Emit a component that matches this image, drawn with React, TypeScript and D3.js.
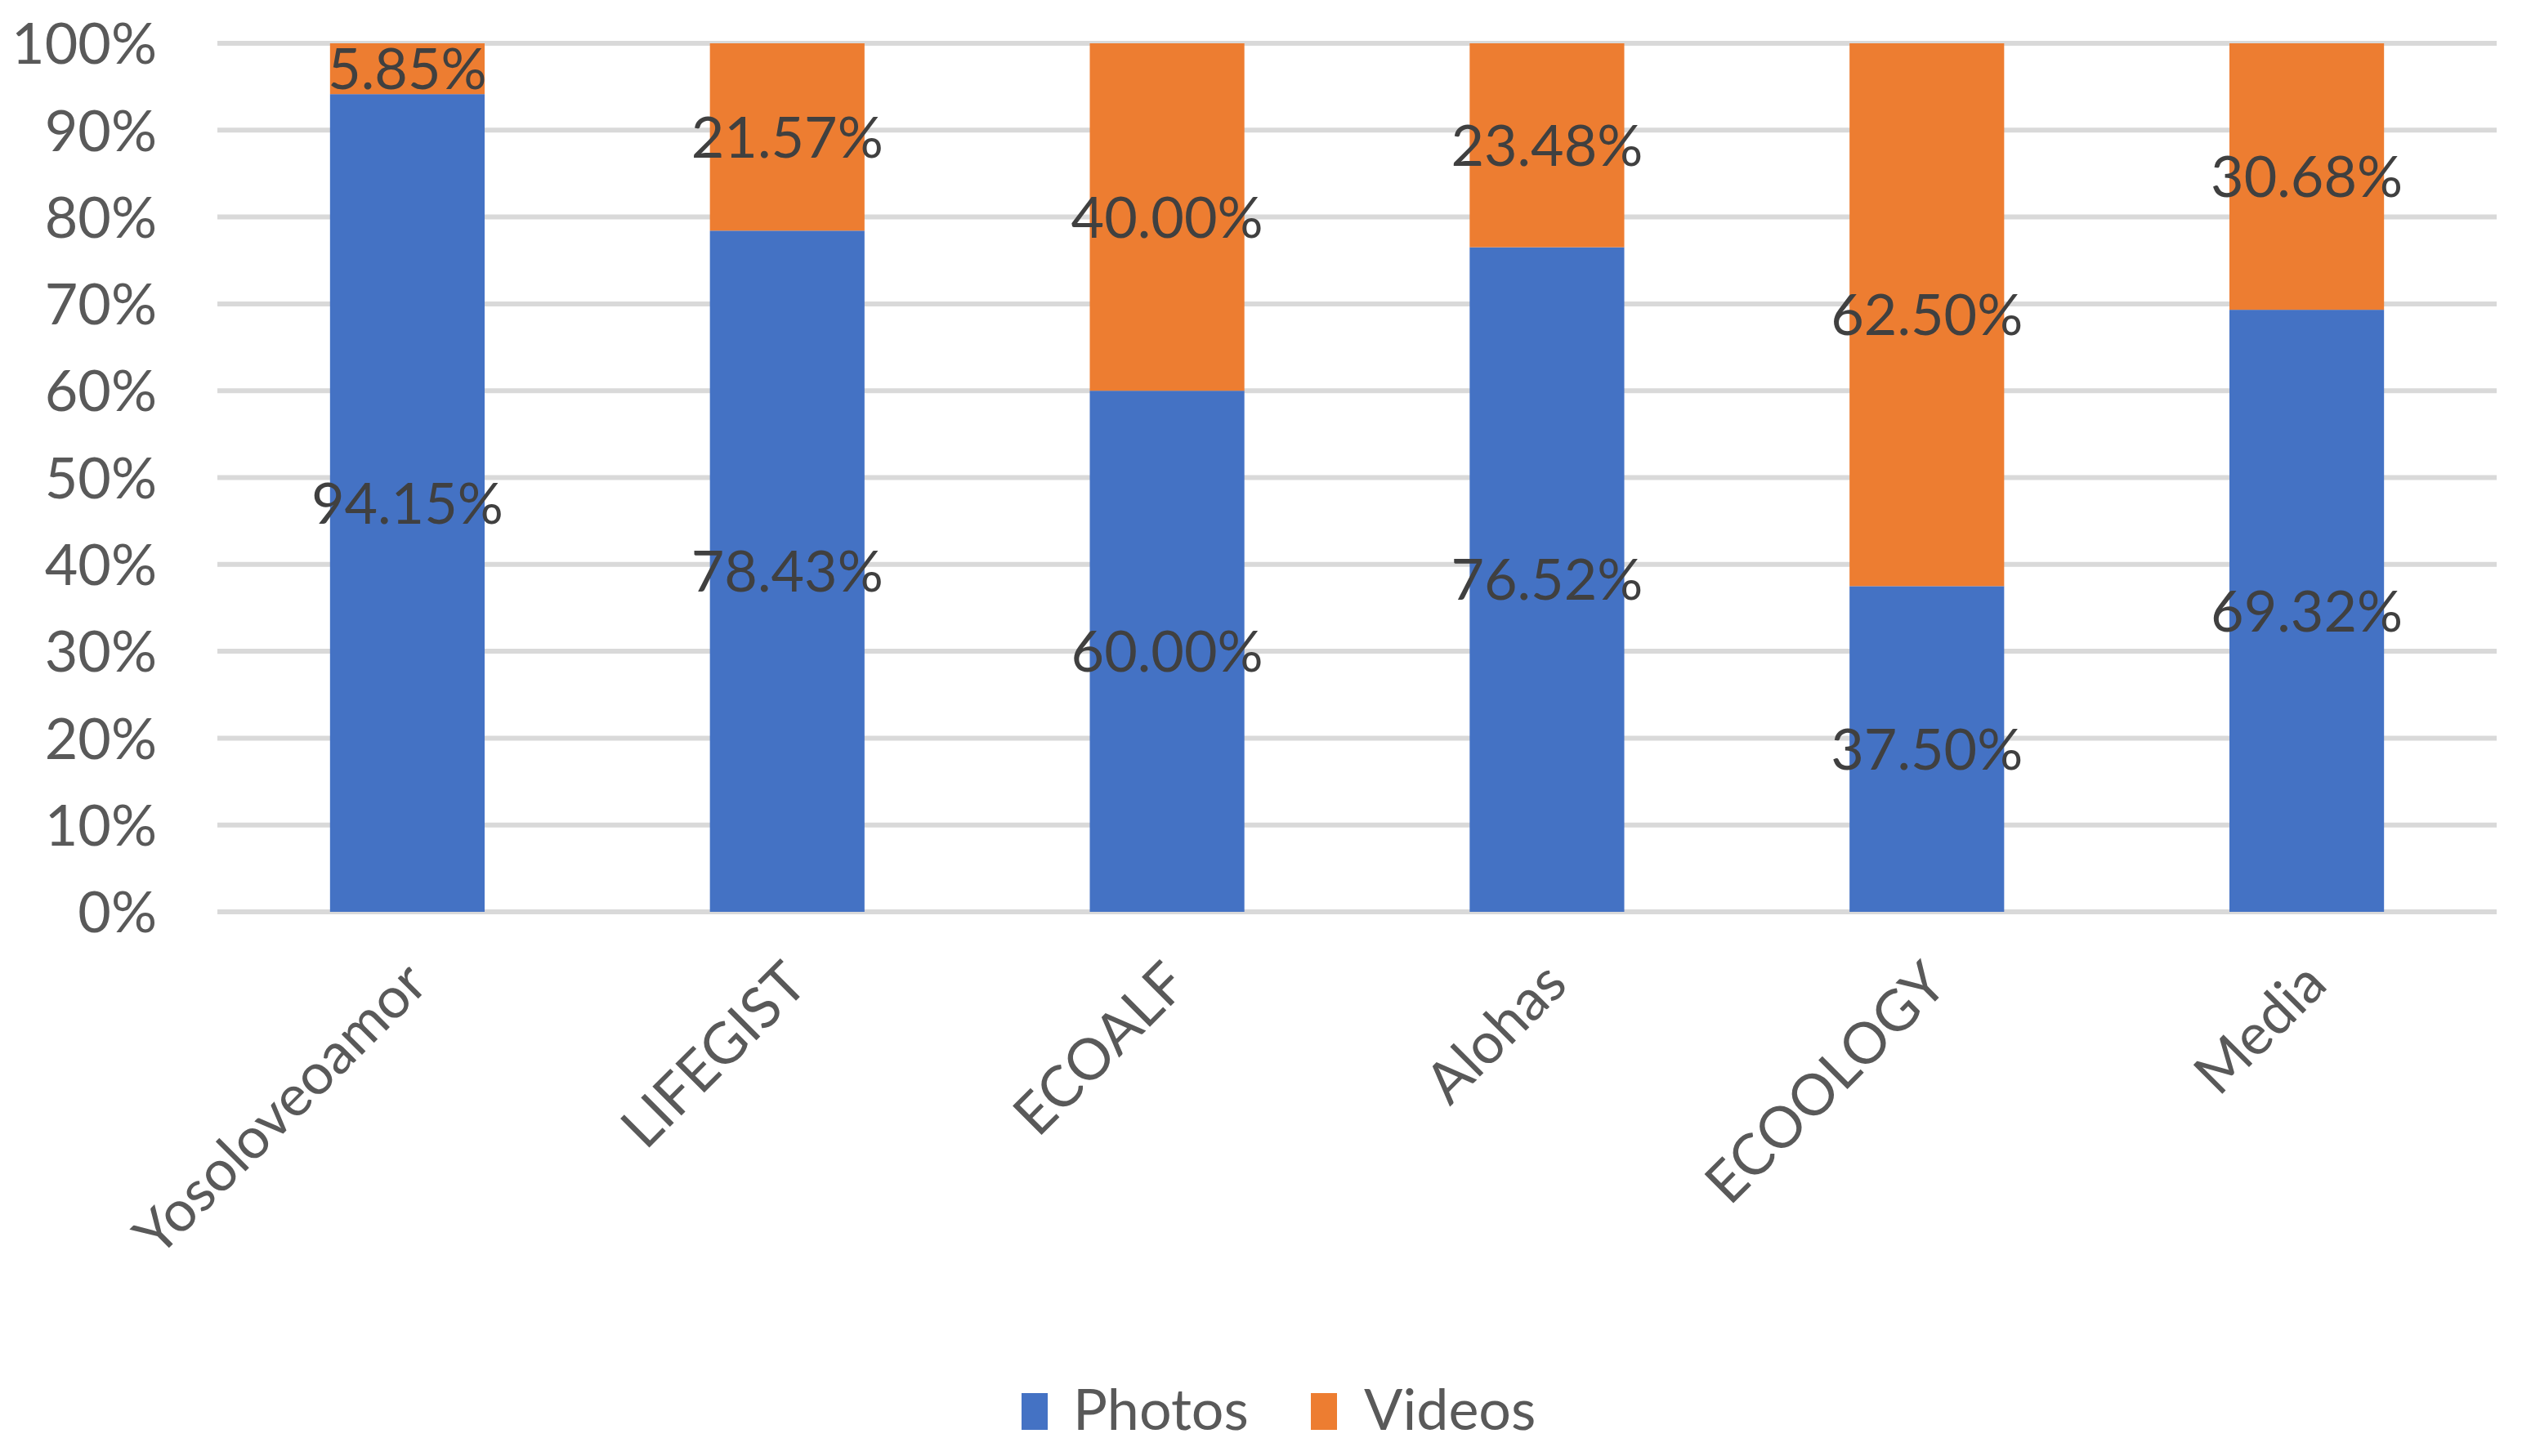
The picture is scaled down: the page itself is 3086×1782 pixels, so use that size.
import * as d3 from 'd3';
import { useEffect, useRef } from 'react';

const categories = ['Yosoloveoamor', 'LIFEGIST', 'ECOALF', 'Alohas', 'ECOOLOGY', 'Media'];
const photos = [94.15, 78.43, 60.0, 76.52, 37.5, 69.32];
const videos = [5.85, 21.57, 40.0, 23.48, 62.5, 30.68];
const yTicks = [0, 10, 20, 30, 40, 50, 60, 70, 80, 90, 100];
const seriesNames = ['Photos', 'Videos'];
const seriesColors = ['#4472C4', '#ED7D31'];

const W = 3086, H = 1782;
const FONT = 'Lato, "Open Sans", sans-serif';
const FS = 70;

function App() {
  const ref = useRef<SVGSVGElement | null>(null);

  useEffect(() => {
    const svg = d3.select(ref.current);
    svg.selectAll('*').remove();

    const x = d3.scaleBand<string>()
      .domain(categories)
      .range([266, 3055])
      .paddingInner(0.593)
      .paddingOuter(0.2965);

    const y = d3.scaleLinear().domain([0, 100]).range([1116, 53]);

    // gridlines
    svg.append('g')
      .selectAll('line')
      .data(yTicks)
      .join('line')
      .attr('x1', 266)
      .attr('x2', 3055)
      .attr('y1', d => y(d))
      .attr('y2', d => y(d))
      .attr('stroke', '#d9d9d9')
      .attr('stroke-width', 6);

    // y tick labels
    svg.append('g')
      .selectAll('text')
      .data(yTicks)
      .join('text')
      .attr('x', 192)
      .attr('y', d => y(d))
      .attr('dy', '0.36em')
      .attr('text-anchor', 'end')
      .style('font-family', FONT)
      .style('font-size', FS + 'px')
      .style('fill', '#595959')
      .text(d => d + '%');

    const rows = categories.map((c, i) => ({ c, p: photos[i], v: videos[i] }));
    const stacked = d3.stack<any>().keys(['p', 'v'])(rows);

    stacked.forEach((layer, si) => {
      const g = svg.append('g');
      g.selectAll('rect')
        .data(layer)
        .join('rect')
        .attr('x', d => x(d.data.c)!)
        .attr('width', x.bandwidth())
        .attr('y', d => y(d[1]))
        .attr('height', d => y(d[0]) - y(d[1]))
        .attr('fill', seriesColors[si]);

      // data labels centred in each segment
      g.selectAll('text')
        .data(layer)
        .join('text')
        .attr('x', d => x(d.data.c)! + x.bandwidth() / 2)
        .attr('y', d => (y(d[0]) + y(d[1])) / 2)
        .attr('dy', '0.36em')
        .attr('text-anchor', 'middle')
        .style('font-family', FONT)
        .style('font-size', FS + 'px')
        .style('fill', '#404040')
        .text(d => (d[1] - d[0]).toFixed(2) + '%');
    });

    // x labels, rotated
    svg.append('g')
      .selectAll('text')
      .data(categories)
      .join('text')
      .attr('transform', d => `translate(${x(d)! + x.bandwidth() / 2 + 10},${1190}) rotate(-45)`)
      .attr('text-anchor', 'end')
      .attr('dy', '0.36em')
      .style('font-family', FONT)
      .style('font-size', FS + 'px')
      .style('fill', '#595959')
      .text(d => d);

    // legend
    const legendX = [1250, 1604];
    const leg = svg.append('g')
      .selectAll('g')
      .data(seriesNames)
      .join('g')
      .attr('transform', (d, i) => `translate(${legendX[i]},1705)`);
    leg.append('rect')
      .attr('width', 32)
      .attr('height', 45)
      .attr('fill', (d, i) => seriesColors[i]);
    leg.append('text')
      .attr('x', (d, i) => (i === 0 ? 63 : 65))
      .attr('y', 45)
      .style('font-family', FONT)
      .style('font-size', FS + 'px')
      .style('fill', '#595959')
      .text(d => d);
  }, []);

  return (
    <svg
      ref={ref}
      width={W}
      height={H}
      style={{ position: 'absolute', left: 0, top: 0, background: '#fff', display: 'block' }}
    />
  );
}

export default App;
